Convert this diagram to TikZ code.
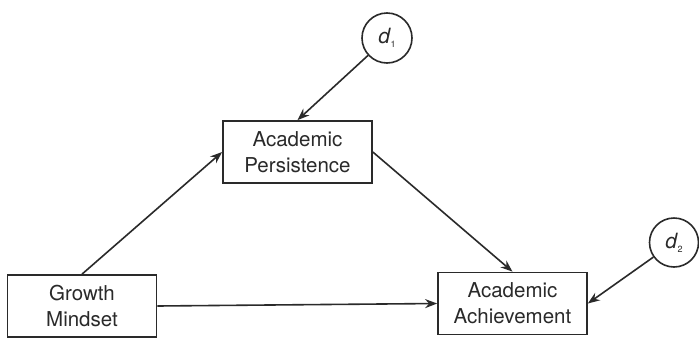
\documentclass[tikz,border=0pt]{standalone}
\usepackage{fontspec}
\setmainfont{TeX Gyre Heros}
\usetikzlibrary{arrows.meta}
\definecolor{ink}{HTML}{2A2A2A}
\begin{document}
\begin{tikzpicture}[x=1pt,y=-1pt,
  box/.style={draw=ink, line width=1.7pt, minimum width=149pt, minimum height=62pt,
    inner sep=0pt, align=center, text=ink, font=\fontsize{20.5}{26}\selectfont},
  dist/.style={draw=ink, circle, line width=1.6pt, minimum size=50pt, inner sep=0pt,
    text=ink, font=\fontsize{21}{22}\selectfont},
  arr/.style={draw=ink, line width=1.6pt, -{Stealth[length=12pt,width=9pt]}}]
\useasboundingbox[fill=white] (0,0) rectangle (699,338);
\node[box] (gm) at (82,306) {Growth\\Mindset};
\node[box] (ap) at (297.5,152) {Academic\\Persistence};
\node[box] (aa) at (512.5,303.5) {Academic\\Achievement};
\node[dist] (d1) at (387,38) {\itshape d\kern0.5pt\raisebox{-4pt}{\upshape\fontsize{9}{9}\selectfont 1}};
\node[dist, minimum size=49pt] (d2) at (674,242.5) {\itshape d\kern0.5pt\raisebox{-4pt}{\upshape\fontsize{9}{9}\selectfont 2}};
\draw[arr] (gm.north) -- (ap.west);
\draw[arr] (ap.east) -- (aa.north);
\draw[arr] (gm.east) -- (aa.west);
\draw[arr] (d1) -- (ap.north);
\draw[arr] (d2) -- (aa.east);
\end{tikzpicture}
\end{document}
